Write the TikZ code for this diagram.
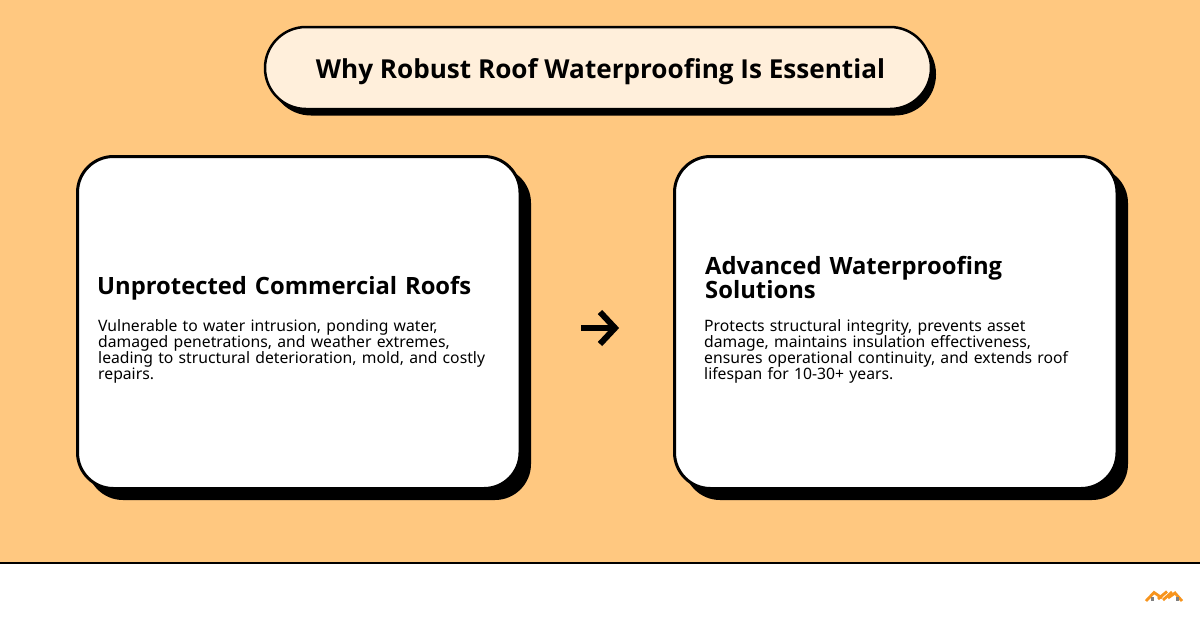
\documentclass[tikz,border=0pt]{standalone}
\usepackage{fontspec}
\setmainfont{Noto Sans}
\newfontfamily\hb{Open Sans}
\definecolor{bgc}{HTML}{FFC880}
\definecolor{pill}{HTML}{FFEFDB}
\definecolor{logoc}{HTML}{F7941D}
\tikzset{
 cardbox/.style={draw=black,line width=3pt,fill=white,rounded corners=36pt},
 cardshadow/.style={fill=black,rounded corners=36pt},
 headtxt/.style={anchor=north west,inner sep=0pt,font=\hb\bfseries\fontsize{23.8}{24}\selectfont,align=left,text width=400pt},
 bodytxt/.style={anchor=north west,inner sep=0pt,font=\fontsize{15.72}{16}\selectfont,align=left,text width=400pt},
 logostroke/.style={draw=logoc,line width=2.8pt,line join=miter},
}
\begin{document}
\begin{tikzpicture}[x=1pt,y=-1pt]
\useasboundingbox (0,0) rectangle (1200,630);
\fill[bgc] (0,0) rectangle (1200,562);
\fill[white] (0,562) rectangle (1200,630);
\draw[black,line width=2pt] (0,562.5) -- (1200,562.5);
% title
\fill[black,rounded corners=41pt] (270,33) rectangle (936,115.5);
\draw[fill=pill,line width=2.5pt,rounded corners=41pt] (265,27) rectangle (931,109);
\node[inner sep=0pt,font=\hb\bfseries\fontsize{26.1}{26}\selectfont] (title) at (600.5,71.7) {Why Robust Roof Waterproofing Is Essential};
% left card
\fill[cardshadow] (87,167) rectangle (531,500);
\draw[cardbox] (77.5,156.5) rectangle (520,488.5);
\node[headtxt] (lh) at (97,276) {Unprotected Commercial Roofs};
\node[bodytxt] (lb) at (98,319) {Vulnerable to water intrusion, ponding water,\\damaged penetrations, and weather extremes,\\leading to structural deterioration, mold, and costly\\repairs.};
% right card
\fill[cardshadow] (684,167) rectangle (1128,500);
\draw[cardbox] (674.5,156.5) rectangle (1117,488.5);
\node[headtxt] (rh) at (705,256) {Advanced Waterproofing\\Solutions};
\node[bodytxt] (rb) at (704,319) {Protects structural integrity, prevents asset\\damage, maintains insulation effectiveness,\\ensures operational continuity, and extends roof\\lifespan for 10-30+ years.};
% arrow
\coordinate (as) at (581,328);
\coordinate (at) at (615,328);
\coordinate (au) at (600,312);
\coordinate (ad) at (600,344);
\draw[line width=6pt] (as) -- (at);
\draw[line width=6pt,miter limit=10] (au) -- (at) -- (ad);
% logo
\draw[logostroke] (1146,601) -- (1154,592.5) -- (1162,598);
\draw[logostroke] (1158,599) -- (1167,591.5);
\draw[logostroke] (1163,600) -- (1172,592);
\draw[logostroke] (1168,598) -- (1175,593) -- (1182,601);
\fill[gray] (1151,597) rectangle (1154,601);
\fill[gray] (1175.5,597) rectangle (1178.5,601);
\end{tikzpicture}
\end{document}
